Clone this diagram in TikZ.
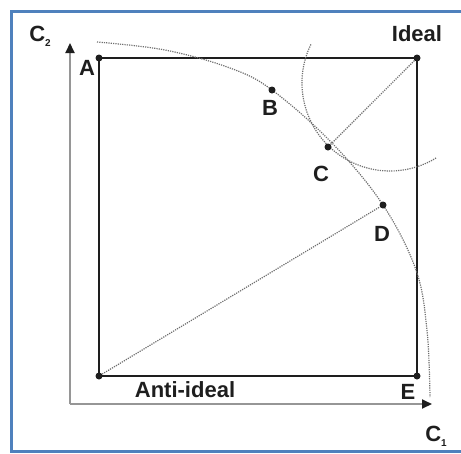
\documentclass[tikz,border=0pt]{standalone}
\usepackage{fontspec}
\setmainfont{Liberation Sans}
\usetikzlibrary{arrows.meta,positioning}
\definecolor{framecol}{RGB}{79,129,189}
\definecolor{axiscol}{RGB}{150,150,150}
\definecolor{guidecol}{RGB}{110,110,110}
\definecolor{inkcol}{RGB}{30,30,30}
\newcommand{\sublbl}[1]{\raisebox{-5pt}{\fontsize{10}{10}\selectfont #1}}

\begin{document}
\begin{tikzpicture}[x=1pt,y=-1pt,font=\fontsize{22}{25}\selectfont\bfseries,
  pt/.style={circle,fill=inkcol,inner sep=0pt,minimum size=7pt},
  lbl/.style={inkcol,inner sep=1pt},
  guide/.style={guidecol,line width=1.2pt,dash pattern=on 1.2pt off 1.1pt},
  axis/.style={axiscol,line width=2pt,-{Triangle[length=10pt,width=9pt,color=inkcol]}}]
  \useasboundingbox (0,0) rectangle (461,453);
  % ---------------- frame ----------------
  \draw[framecol,line width=3pt] (461,11) -- (11,11) -- (11,451) -- (461,451);
  % ---------------- axes ----------------
  \coordinate (O) at (70,404);
  \coordinate (ytip) at (70,43);
  \coordinate (xtip) at (432,404);
  \draw[axis] (O) -- (ytip);
  \draw[axis] (O) -- (xtip);
  \node[lbl] (c2) at (40,36) {C\sublbl{2}};
  \node[lbl] (c1) at (436,436) {C\sublbl{1}};
  % ---------------- solution box ----------------
  \node[pt] (A) at (99,58) {};
  \node[pt] (ideal) at (417,58) {};
  \node[pt] (E) at (417,376) {};
  \node[pt] (anti) at (99,376) {};
  \draw[inkcol,line width=2.2pt] (A.center) -- (ideal.center) -- (E.center)
    -- (anti.center) -- cycle;
  % Pareto front (dotted)
  \draw[guide] plot[smooth,tension=0.6] coordinates {(97,42) (165,50) (230,68)
    (272,90) (332,143) (383,205) (416,270) (427,330) (430,397)};
  % distance circle round the ideal point
  \draw[guide] (390,83) ++(206:88) arc[start angle=206,end angle=58,radius=88];
  \node[pt] (B) at (272,90) {};
  \node[pt] (C) at (328,147) {};
  \node[pt] (D) at (383,205) {};
  \draw[guide] (ideal) -- (C);
  \draw[guide] (anti) -- (D);
  % ---------------- labels ----------------
  \node[lbl] (lA) at (87,68) {A};
  \node[lbl] (lB) at (270,108) {B};
  \node[lbl] (lC) at (321,174) {C};
  \node[lbl] (lD) at (382,234) {D};
  \node[lbl] (lE) at (408,392) {E};
  \node[lbl] (lideal) at (417,34) {Ideal};
  \node[lbl] (lanti) at (185,390) {Anti-ideal};
\end{tikzpicture}
\end{document}
